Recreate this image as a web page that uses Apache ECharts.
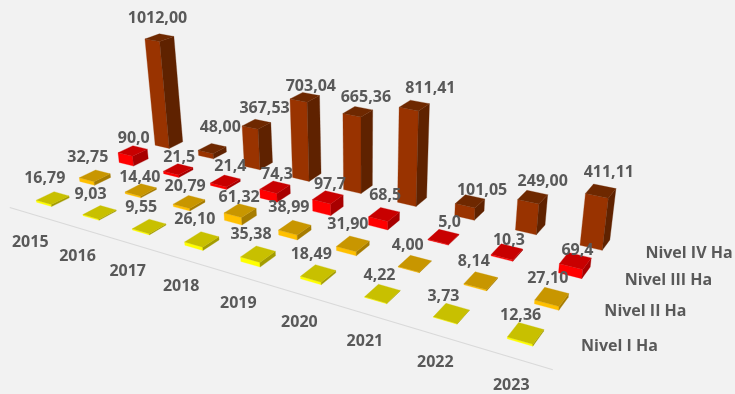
<!DOCTYPE html>
<html>
<head>
<meta charset="utf-8">
<style>html,body{margin:0;padding:0;background:#f2f2f2}#chart{width:735px;height:394px}</style>
<script src="https://cdn.jsdelivr.net/npm/echarts@6/dist/echarts.min.js"></script>
</head>
<body>
<div id="chart"></div>
<script>
// Hectares per year and level
const years = ['2015','2016','2017','2018','2019','2020','2021','2022','2023'];
const levels = ['Nivel I Ha','Nivel II Ha','Nivel III Ha','Nivel IV Ha'];
const nivelI = [16.79, 9.03, 9.55, 26.10, 35.38, 18.49, 4.22, 3.73, 12.36];
const nivelII = [32.75, 14.40, 20.79, 61.32, 38.99, 31.90, 4.00, 8.14, 27.10];
const nivelIII = [90.0, 21.5, 21.4, 74.3, 97.7, 68.5, 5.0, 10.3, 69.4];
const nivelIV = [1012.00, 48.00, 367.53, 703.04, 665.36, 811.41, 101.05, 249.00, 411.11];
const levelSeries = [nivelI, nivelII, nivelIII, nivelIV];
const levelDecimals = [2, 2, 1, 2];
const levelColors = [
  {front:'#ffff00', top:'#c8c000', side:'#a39c00'},
  {front:'#ffc000', top:'#c89600', side:'#a67c00'},
  {front:'#ff0000', top:'#c80000', side:'#a80000'},
  {front:'#993300', top:'#6e2800', side:'#5f2200'}
];

// Value labels sit beside the column top; offsets in pixels, per level and year
const labelDx = [
  [-8,-9,-8,-7,-7,-7,-3,-8,-5],
  [-7,-1,-4,-1,-6,-5,-7,-7,-4],
  [1,1,5,2,2,1,6,2,2],
  [-2,8,8,6,8,16,12,10,8]
];
const labelDy = [
  [-20,-18,-19,-20,-20,-19,-18,-17,-18],
  [-18,-12,-15,-13,-20,-19,-18,-19,-18],
  [-12,-12,-15,-13,-13,-19,-14,-11,-10],
  [-19,-21,-16,-11,-14,-17,-11,-16,-19]
];

// Camera: the ground plane is a projective map of the year/level rectangle,
// vertical edges converge towards a point far below the plot.
const floorCorners = [[53,200],[525.5,335],[595,242.5],[169,143.5]];
const vanish = {x:363, y:2300};
const halfYear = 0.165, halfLevel = 0.2;
const maxU = years.length - 1, maxV = levels.length - 1;
const textFont = '700 16px "Open Sans"';
const textColor = '#595959';

function squareToQuad(q){
  const [[x0,y0],[x1,y1],[x2,y2],[x3,y3]] = q;
  const dx1=x1-x2, dx2=x3-x2, sx=x0-x1+x2-x3, dy1=y1-y2, dy2=y3-y2, sy=y0-y1+y2-y3;
  const den=dx1*dy2-dx2*dy1;
  const g=(sx*dy2-dx2*sy)/den, h=(dx1*sy-sx*dy1)/den;
  return {a:x1-x0+g*x1, b:x3-x0+h*x3, c:x0, d:y1-y0+g*y1, e:y3-y0+h*y3, f:y0, g, h};
}
const H = squareToQuad(floorCorners);
const wBack = H.h + 1;
function ground(u,v){
  const s=u/maxU, t=v/maxV, w=H.g*s+H.h*t+1;
  return {x:(H.a*s+H.b*t+H.c)/w, y:(H.d*s+H.e*t+H.f)/w, w:w/wBack};
}
function lift(p, value, pxPerUnit){
  const h=value*pxPerUnit/Math.pow(p.w,0.8), f=1+h/(vanish.y-p.y);
  return [vanish.x+(p.x-vanish.x)*f, vanish.y+(p.y-vanish.y)*f];
}

// Back rows first so nearer bars paint over farther ones
const barData = [];
for (let v=maxV; v>=0; v--) {
  levelSeries[v].forEach((val,u)=>barData.push([u,val,v]));
}

function renderBar(params, api){
  const u=api.value(0), val=api.value(1), v=api.value(2);
  const unit=api.size([0,1])[1];
  const c=levelColors[v];
  const g=(du,dv)=>ground(u+du,v+dv);
  const bA=g(-halfYear,-halfLevel), bB=g(halfYear,-halfLevel), bC=g(halfYear,halfLevel), bD=g(-halfYear,halfLevel);
  const base=[bA,bB,bC,bD].map(p=>[p.x,p.y]);
  const top=[bA,bB,bC,bD].map(p=>lift(p,val,unit));
  const poly=(points,fill)=>({type:'polygon',shape:{points},style:{fill,stroke:fill,lineWidth:0.3}});
  return {type:'group',children:[
    poly([base[0],base[1],top[1],top[0]],c.front),
    poly([base[1],base[2],top[2],top[1]],c.side),
    poly(top,c.top)
  ]};
}

function renderValueLabel(params, api){
  const u=api.value(0), val=api.value(1), v=api.value(2);
  const unit=api.size([0,1])[1];
  const t=lift(ground(u,v),val,unit);
  return {type:'text',x:t[0]+labelDx[v][u],y:t[1]+labelDy[v][u],style:{
    text:val.toFixed(levelDecimals[v]).replace('.',','),
    fill:textColor,font:textFont,align:'center',verticalAlign:'middle'}};
}

const option = {
  backgroundColor:'#f2f2f2',
  animation:false,
  grid:{left:0,top:0,width:735,height:125.5},
  xAxis:{type:'category',data:years,show:false},
  yAxis:{type:'value',min:0,max:1200,show:false},
  series:[
    {type:'custom',coordinateSystem:'none',silent:true,data:[0],
     renderItem(){
       const a=ground(-0.38,-0.57), b=ground(maxU+0.54,-0.57);
       return {type:'line',shape:{x1:a.x,y1:a.y,x2:b.x,y2:b.y},style:{stroke:'#d9d9d9',lineWidth:1.2}};
     }},
    {type:'custom',coordinateSystem:'none',silent:true,data:years,
     renderItem(params){
       const p=ground(params.dataIndex,-0.5);
       return {type:'text',x:p.x,y:p.y+31,style:{text:years[params.dataIndex],fill:textColor,font:textFont,align:'center',verticalAlign:'middle'}};
     }},
    {type:'custom',coordinateSystem:'none',silent:true,data:levels,
     renderItem(params){
       const p=ground(maxU,params.dataIndex);
       return {type:'text',x:p.x+94,y:p.y+11,style:{text:levels[params.dataIndex],fill:textColor,font:textFont,align:'center',verticalAlign:'middle'}};
     }},
    {type:'custom',silent:true,clip:false,encode:{x:0,y:1},data:barData,renderItem:renderBar,z:3},
    {type:'custom',silent:true,clip:false,encode:{x:0,y:1},data:barData,renderItem:renderValueLabel,z:4}
  ]
};
echarts.init(document.getElementById('chart'),null,{renderer:'canvas'}).setOption(option);
</script>
</body>
</html>
